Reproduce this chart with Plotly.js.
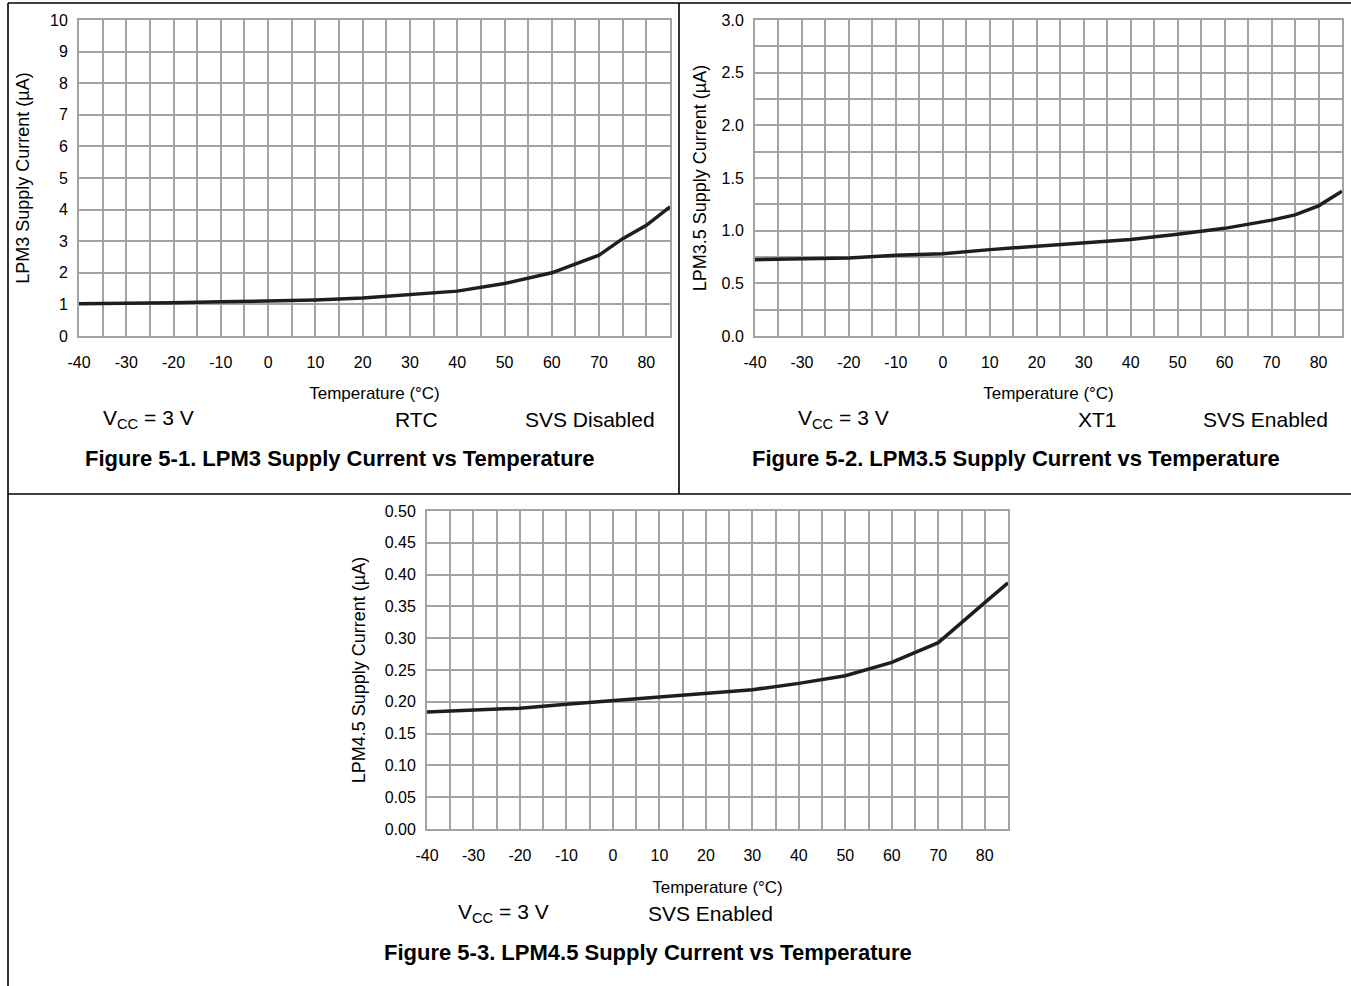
<!DOCTYPE html>
<html>
<head>
<meta charset="utf-8">
<script src="https://cdn.plot.ly/plotly-3.0.1.min.js"></script>
<style>html,body{margin:0;padding:0;background:#fff;}#chart{width:1351px;height:986px;}</style>
</head>
<body>
<div id="chart"></div>
<script>
// Temperature (°C)
const tempLPM3 = [-40, -30, -20, -10, 0, 10, 20, 30, 40, 50, 60, 70, 75, 80, 85];
const currentLPM3 = [1.02, 1.03, 1.05, 1.08, 1.10, 1.14, 1.20, 1.31, 1.42, 1.66, 2.00, 2.56, 3.08, 3.50, 4.09];

const tempLPM35 = [-40, -30, -20, -10, 0, 10, 20, 30, 40, 50, 60, 70, 75, 80, 85];
const currentLPM35 = [0.725, 0.732, 0.74, 0.767, 0.78, 0.82, 0.853, 0.885, 0.917, 0.965, 1.022, 1.10, 1.15, 1.236, 1.374];

const tempLPM45 = [-40, -30, -20, -10, 0, 10, 20, 30, 40, 50, 60, 70, 80, 85];
const currentLPM45 = [0.184, 0.187, 0.190, 0.196, 0.202, 0.208, 0.214, 0.219, 0.229, 0.241, 0.262, 0.293, 0.356, 0.387];

const xTicks = [-40, -30, -20, -10, 0, 10, 20, 30, 40, 50, 60, 70, 80];
const xTickLabels = ['-40', '-30', '-20', '-10', '0', '10', '20', '30', '40', '50', '60', '70', '80'];

const W = 1351, H = 986;
const FONT = 'Liberation Sans, Arial, sans-serif';
const GRID = '#a3a3a3';

function px(x) { return x / W; }
function py(y) { return 1 - y / H; }

function xAxis(x0, x1, anchor, standoff) {
  return {
    domain: [px(x0), px(x1)], anchor: anchor,
    range: [-40, 85], tickmode: 'array', tickvals: xTicks, ticktext: xTickLabels,
    showgrid: true, gridcolor: GRID, gridwidth: 2,
    minor: {dtick: 5, tick0: -40, showgrid: true, gridcolor: GRID, gridwidth: 2},
    showline: true, linecolor: GRID, linewidth: 2, mirror: true,
    zeroline: false,
    ticks: 'outside', ticklen: 11, tickcolor: 'rgba(0,0,0,0)',
    tickfont: {family: FONT, size: 16, color: '#000'},
    title: {text: 'Temperature (°C)', font: {family: FONT, size: 17, color: '#000'}, standoff: standoff},
    fixedrange: true
  };
}
function yAxis(y0, y1, anchor, range, dtick, minorDtick, fmt, title, standoff) {
  const ax = {
    domain: [py(y1), py(y0)], anchor: anchor,
    range: range, dtick: dtick, tick0: 0, tickformat: fmt,
    showgrid: true, gridcolor: GRID, gridwidth: 2,
    showline: true, linecolor: GRID, linewidth: 2, mirror: true,
    zeroline: false,
    ticks: 'outside', ticklen: 6, tickcolor: 'rgba(0,0,0,0)',
    tickfont: {family: FONT, size: 16, color: '#000'},
    title: {text: title, font: {family: FONT, size: 18, color: '#000'}, standoff: standoff},
    fixedrange: true
  };
  if (minorDtick) ax.minor = {dtick: minorDtick, tick0: 0, showgrid: true, gridcolor: GRID, gridwidth: 2};
  return ax;
}

const lineStyle = {color: '#1e1e1e', width: 3.5};

const data = [
  {x: tempLPM3, y: currentLPM3, xaxis: 'x', yaxis: 'y', mode: 'lines', line: lineStyle, showlegend: false, hoverinfo: 'skip'},
  {x: tempLPM35, y: currentLPM35, xaxis: 'x2', yaxis: 'y2', mode: 'lines', line: lineStyle, showlegend: false, hoverinfo: 'skip'},
  {x: tempLPM45, y: currentLPM45, xaxis: 'x3', yaxis: 'y3', mode: 'lines', line: lineStyle, showlegend: false, hoverinfo: 'skip'}
];

function note(text, x, y, size, bold) {
  return {
    text: bold ? '<b>' + text + '</b>' : text,
    xref: 'paper', yref: 'paper', x: px(x), y: py(y),
    xanchor: 'center', yanchor: 'middle', showarrow: false,
    font: {family: FONT, size: size, color: '#000'}
  };
}

function border(x0, y0, x1, y1) {
  return {type: 'line', xref: 'paper', yref: 'paper', x0: px(x0), y0: py(y0), x1: px(x1), y1: py(y1),
          line: {color: '#000', width: 1.6}};
}

const layout = {
  width: W, height: H,
  margin: {l: 0, r: 0, t: 0, b: 0},
  paper_bgcolor: '#fff', plot_bgcolor: '#fff',
  showlegend: false,
  xaxis: xAxis(79, 670, 'y', 17),
  yaxis: yAxis(20, 336, 'x', [0, 10], 1, null, 'd', 'LPM3 Supply Current (µA)', 16),
  xaxis2: xAxis(755, 1342, 'y2', 17),
  yaxis2: yAxis(20, 336, 'x2', [0, 3], 0.5, 0.25, '.1f', 'LPM3.5 Supply Current (µA)', 10),
  xaxis3: xAxis(427, 1008, 'y3', 18),
  yaxis3: yAxis(511, 829, 'x3', [0, 0.5], 0.05, null, '.2f', 'LPM4.5 Supply Current (µA)', 14),
  annotations: [
    note('V<sub>CC</sub> = 3 V', 148, 419, 21),
    note('RTC', 416, 419, 21),
    note('SVS Disabled', 590, 419, 21),
    note('Figure 5-1. LPM3 Supply Current vs Temperature', 339, 459, 22, true),
    note('V<sub>CC</sub> = 3 V', 843, 419, 21),
    note('XT1', 1097, 419, 21),
    note('SVS Enabled', 1265, 419, 21),
    note('Figure 5-2. LPM3.5 Supply Current vs Temperature', 1016, 459, 22, true),
    note('V<sub>CC</sub> = 3 V', 503, 913, 21),
    note('SVS Enabled', 710, 913, 21),
    note('Figure 5-3. LPM4.5 Supply Current vs Temperature', 648, 952, 22, true)
  ],
  shapes: [
    border(8, 3, 1351, 3),
    border(8, 3, 8, 986),
    border(679, 3, 679, 494),
    border(8, 494, 1351, 494)
  ]
};

Plotly.newPlot('chart', data, layout, {displayModeBar: false, staticPlot: true});
</script>
</body>
</html>
